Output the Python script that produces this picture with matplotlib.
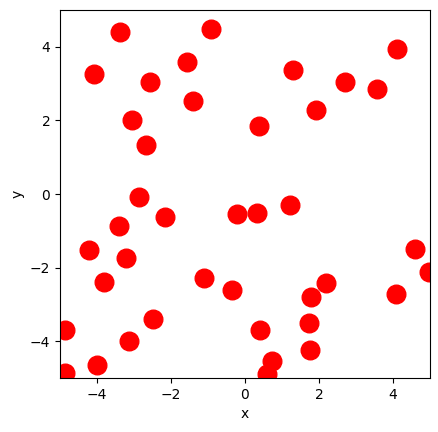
import matplotlib
matplotlib.use("Agg")
import matplotlib.pyplot as plt

x = [-3.38, -0.92, -4.08, -1.57, -2.57, -1.41, -3.05, -2.68, -2.86, -2.16,
     -3.41, -4.22, -3.22, -3.81, -2.49, -3.14, -4.00, -4.86, -4.86, -1.11,
     -0.35, -0.22, 0.32, 0.38, 1.30, 1.22, 1.92, 2.70, 3.57, 4.11,
     0.41, 0.73, 0.59, 1.78, 2.19, 1.73, 1.76, 4.08, 4.59, 4.97]
y = [4.41, 4.49, 3.27, 3.59, 3.03, 2.54, 2.00, 1.32, -0.08, -0.62,
     -0.86, -1.51, -1.73, -2.38, -3.41, -4.00, -4.65, -3.70, -4.86, -2.27,
     -2.62, -0.54, -0.51, 1.84, 3.38, -0.30, 2.27, 3.05, 2.84, 3.95,
     -3.70, -4.54, -4.89, -2.81, -2.41, -3.51, -4.24, -2.73, -1.49, -2.11]

fig = plt.figure(figsize=(4.39, 4.32), dpi=100)
ax = fig.add_axes([60/439, 54/432, 370/439, 368/432])
ax.scatter(x, y, s=180, color='red')
ax.set_xlim(-5, 5)
ax.set_ylim(-5, 5)
ax.set_xlabel('x')
ax.set_ylabel('y')
fig.savefig('out.png', dpi=100)
